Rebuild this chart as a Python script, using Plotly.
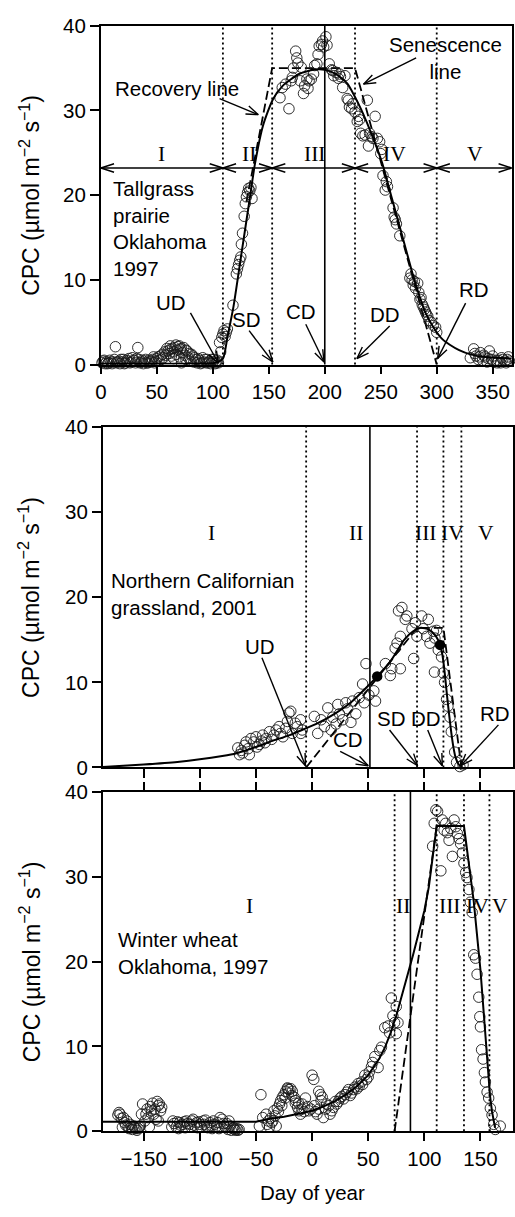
import math
import plotly.graph_objects as go

W, H = 515, 1217
SANS = "Liberation Sans, Arial, sans-serif"
SERIF = "Liberation Serif, Times New Roman, serif"

# ---------------- Panel 1: Tallgrass prairie, Oklahoma 1997 ----------------
p1_points = [
    (1,0.2),(2,0.4),(4,0.1),(5,0.3),(7,0.2),(8,0.5),(10,0.1),(11,0.3),(13,2.1),(14,0.2),
    (16,0.4),(17,0.1),(19,0.3),(20,0.6),(22,0.2),(24,0.4),(25,0.7),(27,0.3),(28,0.8),(30,0.5),
    (31,0.2),(33,2.0),(34,0.6),(36,0.3),(38,0.1),(39,0.4),(41,0.2),(43,0.5),(44,0.3),(46,0.6),
    (47,0.9),(49,0.4),(50,0.7),(52,0.5),(53,1.0),(55,1.2),(56,0.8),(57,1.5),(58,1.1),(60,1.6),
    (61,1.3),(62,1.8),(63,1.0),(64,1.9),(65,1.5),(66,2.0),(67,1.2),(68,1.7),(69,2.1),(70,0.9),
    (71,1.8),(72,0.2),(73,1.4),(74,2.0),(75,1.1),(76,0.6),(77,1.6),(78,0.8),(79,1.3),(80,0.4),
    (82,1.0),(83,0.3),(85,0.6),(86,0.2),(88,0.5),(89,0.1),(91,0.8),(92,0.3),(94,0.2),(95,0.6),
    (97,0.4),(98,0.1),(100,0.3),(101,0.6),(103,0.2),(104,0.5),
    (3,0.5),(6,0.1),(9,0.3),(12,0.6),(15,0.3),(18,0.6),(21,0.1),(23,0.5),(26,0.2),(29,0.5),
    (32,0.7),(35,0.2),(37,0.5),(40,0.6),(42,0.2),(45,0.4),(48,0.2),(51,0.9),(54,0.6),(59,1.9),
    (62,2.2),(65,0.7),(67,2.3),(70,2.2),(72,1.9),(76,1.7),(81,1.2),(84,0.8),(87,0.7),(90,0.2),
    (93,0.6),(96,0.2),(99,0.6),(102,0.1),(105,0.2),
    (106,2.6),(107,1.5),(108,3.2),(109,3.6),(110,4.0),(111,3.3),(112,3.8),(113,4.2),(118,7.0),
    (121,10.7),(122,11.3),(123,11.8),(124,12.3),(125,12.7),(125.5,14.2),(126.5,15.5),(128,17.5),
    (129,19.0),(130,19.8),(131,20.3),(132,20.8),(133,20.5),(134,20.9),(135,19.6),
    (160,31.5),(162,32.7),(165,33.1),(168,30.2),(170,33.5),(171,33.9),(172,35.0),(174,37.0),
    (175,36.2),(176,35.6),(178,33.5),(179,35.1),(181,32.0),(182,32.9),(184,33.7),(185,32.6),
    (186,33.5),(188,33.7),(190,34.3),(191,35.3),(193,35.5),(194,36.6),(195,37.6),(197,37.8),
    (198,38.2),(199,37.5),(201,38.7),(202,37.7),(204,35.5),(206,34.8),(207,34.7),(208,34.1),
    (210,34.5),(212,33.8),(213,34.3),(214,34.0),(216,32.7),(218,34.1),(220,31.4),
    (221,31.2),(222,30.4),(224,30.2),(225,30.8),(227,29.8),(229,28.7),(230,29.3),(231,28.9),
    (232,27.3),(234,27.0),(236,27.1),(238,31.2),(239,25.8),(240,27.3),(242,26.9),(243,26.7),
    (245,29.3),(247,26.7),(249,26.3),(250,24.9),(251,25.4),(252,22.3),(254,20.6),(255,21.6),
    (256,21.0),(261,18.5),(262,17.4),(263,17.1),(264,16.6),(267,15.2),(276,10.2),(277,10.7),
    (278,10.0),(279,9.4),(280,9.8),(281,9.0),(283,9.6),(284,8.5),(285,7.7),(286,7.9),(287,7.1),
    (288,6.8),(289,6.5),(290,6.2),(291,5.9),(292,5.7),(293,5.2),(295,5.0),(297,4.6),(299,4.4),
    (300,3.8),
    (330,0.8),(333,1.85),(335,1.0),(337,0.6),(339,1.4),(341,0.5),(343,0.9),(345,0.3),(347,1.6),
    (349,0.6),(351,0.3),(353,0.5),(355,0.5),(357,0.2),(359,0.6),(361,0.4),(363,0.6),(365,0.4),
    (334,1.3),(338,0.9),(342,1.1),(346,0.7),(350,1.0),(354,0.2),(358,0.8),(362,0.2),(364,0.9),
]
p1_fit = [(0,0.1),(60,0.1),(100,0.15),(105,0.3),(109.4,0.8),(113,3.2),(118.4,6.8),(125.7,13.2),
          (133,19.6),(137.5,23.6),(144.8,28.2),(153.6,31.3),(162.4,32.9),(177,34.3),(190,34.8),
          (200,34.8),(210,34.3),(220,33.2),(230,30.8),(240,27.8),(251,23.9),(260,19.6),(270,14.8),
          (280,10.0),(290,6.1),(298,4.2),(305,3.0),(312,2.3),(320,1.7),(330,1.2),(345,0.85),(367,0.7)]
p1_model = [(130,19.2),(153,35.0),(227,35.0),(300,0.0)]
p1_dotted = [109, 153, 227, 300]
p1_solid = [200]
p1_phase_edges = [0, 109, 153, 227, 300, 367]
p1_phase_level = 23.2
p1_roman = [("I",54),("II",132),("III",191),("IV",262),("V",334)]
p1_roman_y = 24.9
p1_marks = [("UD",(63,7.3),(80,6.1),(105,0.15)),
            ("SD",(130,5.3),(132.4,4.0),(153.6,0.3)),
            ("CD",(178.6,6.3),(183,4.75),(199.3,0.3)),
            ("DD",(253.6,5.9),(258,4.55),(228.7,0.7)),
            ("RD",(333,8.8),(325.8,7.25),(300.8,0.7))]
p1_notes = [("Recovery line", (10.6,32.6), "left", (106,31.4), (140.6,29.5)),
            ("Senescence<br>line", (308,36.2), "center", (281.6,36.2), (234.6,33.1))]

# ---------------- Panel 2: Northern Californian grassland, 2001 ----------------
p2_points = [
    (-66.2,2.3),(-64.7,1.5),(-61.8,1.7),(-55.9,1.5),(-58.8,3.0),(-54.4,3.4),(-50,3.6),(-47,2.7),
    (-44,3.8),(-41,3.4),(-38,4.2),(-34,3.8),(-29.4,4.8),(-28,4.0),(-23.5,4.6),(-22,5.4),(-20.6,6.4),
    (-19,6.6),(-17.6,4.0),(-13.2,4.8),(-10.3,5.6),(-10,4.0),(-8.8,4.4),
    (-63,2.0),(-60,2.6),(-57,2.2),(-52,3.0),(-49,2.4),(-45,3.1),(-42,2.9),(-36,3.3),(-32,4.4),
    (-26,3.6),(-15,5.2),
    (2,6.0),(5,4.0),(8,5.6),(11,4.8),(14,7.0),(17,4.4),(18.4,5.9),(21.4,5.1),(22.9,7.4),(24.4,6.3),
    (27.3,5.6),(30,7.6),(31.7,6.9),(34.6,5.3),(36,7.8),(39,6.3),(42,8.2),(45,9.8),(46.5,7.6),
    (48,12.2),(50.6,8.5),(55,9.0),(56.5,7.8),
    (65.3,12.2),(69.7,10.8),(71,11.6),(74,14.0),(75.7,14.6),(78.6,15.4),(78.6,11.6),(77,18.4),
    (80,18.8),(83,17.4),(84.4,17.8),(89,16.3),(90.5,12.8),(92,17.0),(93.4,15.4),
    (97.6,17.8),(99,16.3),(102,15.4),(103.5,17.4),(105,14.6),(108,16.0),(109.4,15.2),(110.9,16.1),
    (109,11.2),(112.4,13.8),
    (115.3,13.0),(116.8,11.1),(118,10.0),(119.8,8.0),(121,7.2),(122.8,5.9),(124,4.2),(127,1.8),
    (128.7,0.6),(131.6,0.1),(134.5,0.3),
]
p2_filled = [(58,10.7),(114,14.4)]
p2_fit = [(-186.4,0.05),(-150,0.35),(-120,0.65),(-100,0.95),(-80,1.35),(-68,1.65),(-50,2.4),
          (-38,3.0),(-20,3.8),(-9,4.4),(5,5.2),(20,6.3),(35,7.7),(50,9.6),(58,10.7),(70,12.5),
          (82,15.0),(90,16.0),(97,16.4),(104,16.2),(110,15.5),(114,14.4),(116,13.3),(118,11.3),
          (120,8.7),(122,6.3),(124,4.1),(126,2.3),(128,1.1),(131,0.3),(134,0.1)]
p2_model = [(-5.3,0.0),(93.5,16.4),(117,16.4),(133,0.0)]
p2_dotted = [-5.3, 93.5, 117, 133]
p2_solid = [51.5]
p2_roman = [("I",-89.7),("II",38.8),("III",100.6),("IV",125),("V",155)]
p2_roman_y = 27.5
p2_marks = [("UD",(-46,14.2),(-44.7,12.9),(-5.9,0.2)),
            ("CD",(32.4,3.3),(25,1.9),(50,0.2)),
            ("SD",(70.6,5.8),(69,4.4),(94,0.2)),
            ("DD",(101.5,5.8),(103,4.4),(116,0.2)),
            ("RD",(163,6.3),(166,5.0),(132.4,0.2))]

# ---------------- Panel 3: Winter wheat, Oklahoma 1997 ----------------
p3_points = [
    (-172,2.2),(-171,2.0),(-169,0.46),(-168,1.6),(-165,1.2),(-162,0.8),(-161,0.5),(-157,0.3),
    (-156,0.1),(-154,0.5),(-151,3.2),(-152,2.0),(-149,1.2),(-146,1.6),(-145,0.5),(-143,2.4),
    (-140,2.6),(-139,1.4),(-137,3.0),(-136,3.2),(-135,2.4),(-137,1.2),
    (-173,1.9),(-170,1.5),(-167,1.0),(-166,0.7),(-164,0.5),(-163,0.3),(-160,0.2),(-159,0.6),
    (-158,0.4),(-155,0.3),(-153,0.6),(-148,2.0),(-147,2.6),(-144,2.9),(-142,3.3),(-141,2.0),
    (-138,3.5),(-134,2.8),
    (-124,1.2),(-121,0.5),(-118,1.0),(-115,0.8),(-112,1.2),(-109,0.8),(-106,1.4),(-103,1.0),
    (-100,0.8),(-97,1.2),(-94,0.6),(-91,1.0),(-88,1.2),(-85,0.6),(-82,1.6),(-79,0.9),(-77,0.4),
    (-74,1.2),(-71,0.3),(-68,0.1),(-65,0.2),
    (-125,0.5),(-123,0.9),(-120,1.1),(-119,0.3),(-117,0.7),(-114,1.1),(-113,0.4),(-111,0.9),
    (-108,0.5),(-107,1.2),(-105,0.7),(-102,0.4),(-101,1.1),(-99,0.5),(-96,0.8),(-95,1.3),
    (-93,0.4),(-90,0.7),(-89,0.3),(-87,0.8),(-84,1.0),(-83,0.3),(-80,1.4),(-78,0.6),(-76,0.9),
    (-75,0.2),(-73,0.6),(-72,0.1),(-70,0.4),(-69,0.2),(-67,0.3),(-66,0.1),
    (-47,0.6),(-45.6,4.3),(-44,1.6),(-41,2.0),(-38,0.5),(-35,1.2),(-34,2.4),(-32,0.6),(-29,3.2),
    (-26.5,4.0),(-23.5,4.7),(-22,5.1),(-20.6,4.9),(-17.6,4.7),(-16,4.0),(-14.7,3.6),(-11.7,2.4),
    (-10.3,2.0),(-8.8,3.2),(-5.9,3.9),(-2.9,2.4),(0,6.6),(1.5,6.1),(4.4,2.0),(5.9,4.7),(7.4,4.3),
    (-40,0.8),(-39,1.2),(-37,1.5),(-36,1.0),(-33,1.8),(-31,2.7),(-30,2.3),(-28,3.6),(-27,3.0),
    (-25,4.3),(-24,3.9),(-21.7,5.0),(-21,4.5),(-19,5.0),(-18,4.2),(-15,3.3),(-13,2.8),(-12,3.3),
    (-9,2.6),(-7,2.3),(-4,2.9),(-1,2.6),(2,3.0),(3,2.3),(6,2.6),(8,3.6),(9,4.0),(12,2.6),
    (15,3.0),(16,2.0),(19,2.8),(22,3.2),(25,3.9),(28,3.8),(31,4.6),(34,4.2),(37,4.9),(40,5.0),
    (42,5.3),(45,5.5),(50,6.4),(51,7.0),(54,8.1),
    (10,1.6),(13,3.2),(17.6,2.4),(20.6,3.5),(23.5,3.5),(26.5,4.1),(29.4,4.3),(32.4,4.9),(35.3,4.5),
    (38.2,5.2),(41,5.6),(44,5.8),(47,6.6),(48.5,6.1),(52.9,7.6),(55.9,8.8),(58.8,7.5),(60.3,9.5),
    (61.8,9.9),(64.7,12.2),(67.6,12.4),(69,11.6),(70.6,15.7),(72,13.6),(73.5,12.8),(75,14.7),
    (75,11.5),(76.5,12.8),
    (107.4,33.6),(108.8,36.3),(110.3,37.9),(111.8,37.7),(114.7,30.7),(116,36.7),(117.6,35.5),
    (119,36.3),(120.5,35.2),(122,34.3),(123.5,35.7),(125,32.4),(126.5,36.7),(128,35.9),
    (129.4,35.1),(131,34.5),(132.3,33.9),(133.8,32.8),(135.3,31.6),
    (136.8,30.5),(138,29.9),(139.7,28.5),(141,27.0),(142.6,25.8),(144,20.8),(145.6,20.4),
    (147,18.5),(148.5,15.8),(149.4,13.5),(150,12.3),(151,9.6),(152.3,8.5),(153.5,6.9),
    (154.4,5.8),(155.9,4.6),(157.3,3.9),(158.8,2.7),(160.3,1.9),(161.8,0.8),(163.2,0.2),
    (167.6,0.6),
]
p3_fit = [(-186.4,1.1),(-50,1.1),(-40,1.4),(-25,1.7),(-10,2.1),(0,2.4),(10,2.9),(20,3.5),(30,4.3),
          (40,5.3),(50,6.6),(60,8.6),(65,9.9),(70,11.6),(75,13.6),(80,15.9),(85,18.3),(90,20.8),
          (95,23.4),(100,26.0),(104,28.8),(108,32.6),(111,36.0),(135.3,36.0),(138.2,32.9),
          (144,27.1),(150,19.0),(156,7.8),(158.5,4.2),(160.3,2.3),(163,0.4)]
p3_model = [(73.5,0.0),(111,36.0),(135.3,36.0)]
p3_dotted = [73.5, 111, 135.3, 158]
p3_solid = [87.6]
p3_roman = [("I",-56),("II",81),("III",122),("IV",147),("V",167.6)]
p3_roman_y = 26.5

# ---------------- axes / ticks ----------------
p1_xrange = [0, 367]
p23_xrange = [-186.4, 179]
y_range = [0, 40]
p1_xticks = [0, 50, 100, 150, 200, 250, 300, 350]
p23_xticks = [-150, -100, -50, 0, 50, 100, 150]
y_ticks = [0, 10, 20, 30, 40]

site_labels = [("Tallgrass<br>prairie<br>Oklahoma<br>1997", 9.4, 16.1),
               ("Northern Californian<br>grassland, 2001", -180.9, 20.4),
               ("Winter wheat<br>Oklahoma, 1997", -175, 21.0)]

# pixel layout of the three frames (left, right, top, bottom)
frames = [(96, 511.7, 14, 359.3), (98, 513, 423, 770), (98, 513, 795, 1140.7)]
xranges = [p1_xrange, p23_xrange, p23_xrange]

fig = go.Figure()

def xy(pairs):
    return [p[0] for p in pairs], [p[1] for p in pairs]

def axnames(i):
    return ("x", "y") if i == 0 else (f"x{i+1}", f"y{i+1}")

panels = [
    dict(pts=p1_points, fit=p1_fit, model=p1_model, spline=True),
    dict(pts=p2_points, fit=p2_fit, model=p2_model, spline=True),
    dict(pts=p3_points, fit=p3_fit, model=p3_model, spline=False),
]
for i, pnl in enumerate(panels):
    xa, ya = axnames(i)
    mx, my = xy(pnl["model"])
    fig.add_trace(go.Scatter(x=mx, y=my, xaxis=xa, yaxis=ya, mode="lines",
                             line=dict(color="black", width=1.8, dash="9px,4px"),
                             showlegend=False, hoverinfo="skip"))
    px_, py_ = xy(pnl["pts"])
    fig.add_trace(go.Scatter(x=px_, y=py_, xaxis=xa, yaxis=ya, mode="markers",
                             marker=dict(symbol="circle-open", size=10.5, color="#1a1a1a",
                                         line=dict(width=0.9, color="#1a1a1a")),
                             cliponaxis=False, showlegend=False))
    fx, fy = xy(pnl["fit"])
    fig.add_trace(go.Scatter(x=fx, y=fy, xaxis=xa, yaxis=ya, mode="lines",
                             line=dict(color="black", width=2.0,
                                       shape="spline" if pnl["spline"] else "linear",
                                       smoothing=0.6),
                             showlegend=False))

fx, fy = xy(p2_filled)
fig.add_trace(go.Scatter(x=fx, y=fy, xaxis="x2", yaxis="y2", mode="markers",
                         marker=dict(symbol="circle", size=10.5, color="black"),
                         showlegend=False))

shapes = []
annotations = []

def vlines(xref, yref, xs, dotted):
    for v in xs:
        shapes.append(dict(type="line", xref=xref, yref=f"{yref} domain", x0=v, x1=v, y0=0, y1=1,
                           line=dict(color="black", width=1.8 if dotted else 1.6,
                                     dash="2px,3px" if dotted else "solid")))

for i, (dots, sol) in enumerate([(p1_dotted, p1_solid), (p2_dotted, p2_solid), (p3_dotted, p3_solid)]):
    xa, ya = axnames(i)
    vlines(xa, ya, dots, True)
    vlines(xa, ya, sol, False)

# arrows drawn as line traces with open V heads (head geometry computed in pixel space)
def arrow_trace(i, tail, tip, both=False, head=13, half_angle=20):
    l, r, t, b = frames[i]
    xr = xranges[i]
    sx = (r - l) / (xr[1] - xr[0])
    sy = (b - t) / (y_range[1] - y_range[0])
    xa, ya = axnames(i)
    xs, ys = [tail[0], tip[0], None], [tail[1], tip[1], None]

    def head_at(p_from, p_to):
        dx = (p_to[0] - p_from[0]) * sx
        dy = (p_to[1] - p_from[1]) * sy
        n = math.hypot(dx, dy)
        ux, uy = dx / n, dy / n
        out_x, out_y = [], []
        for sgn in (1, -1):
            a = math.radians(half_angle) * sgn
            rx = -(ux * math.cos(a) - uy * math.sin(a)) * head
            ry = -(ux * math.sin(a) + uy * math.cos(a)) * head
            out_x.append(p_to[0] + rx / sx)
            out_y.append(p_to[1] + ry / sy)
        return [out_x[0], p_to[0], out_x[1], None], [out_y[0], p_to[1], out_y[1], None]

    hx, hy = head_at(tail, tip)
    xs += hx; ys += hy
    if both:
        hx, hy = head_at(tip, tail)
        xs += hx; ys += hy
    fig.add_trace(go.Scatter(x=xs, y=ys, xaxis=xa, yaxis=ya, mode="lines",
                             line=dict(color="black", width=1.4), cliponaxis=False,
                             showlegend=False, hoverinfo="skip"))

def text(xref, yref, x, y, s, size=20.5, family=SANS, xanchor="center", align="center"):
    annotations.append(dict(x=x, y=y, xref=xref, yref=yref, text=s, showarrow=False,
                            xanchor=xanchor, yanchor="middle", align=align,
                            font=dict(family=family, size=size, color="black")))

for a, b in zip(p1_phase_edges[:-1], p1_phase_edges[1:]):
    arrow_trace(0, (a, p1_phase_level), (b, p1_phase_level), both=True, head=14, half_angle=18)

for i, marks in [(0, p1_marks), (1, p2_marks)]:
    xa, ya = axnames(i)
    for (lab, tpos, tail, tip) in marks:
        text(xa, ya, tpos[0], tpos[1], lab)
        arrow_trace(i, tail, tip)

for (lab, tpos, anchor, tail, tip) in p1_notes:
    text("x", "y", tpos[0], tpos[1], lab, xanchor=anchor)
    arrow_trace(0, tail, tip)

for i, (romans, ry) in enumerate([(p1_roman, p1_roman_y), (p2_roman, p2_roman_y), (p3_roman, p3_roman_y)]):
    xa, ya = axnames(i)
    for s, xv in romans:
        text(xa, ya, xv, ry, s, size=21.5, family=SERIF)

for i, (s, xv, yv) in enumerate(site_labels):
    xa, ya = axnames(i)
    text(xa, ya, xv, yv, s, xanchor="left", align="left")

ytitle = "CPC (\u00b5mol m<sup>\u22122</sup> s<sup>\u22121</sup>)"
for (l, r, t, b) in frames:
    annotations.append(dict(x=24 / W, y=1 - (t + b) / 2 / H, xref="paper", yref="paper",
                            text=ytitle, textangle=-90, showarrow=False,
                            xanchor="center", yanchor="middle",
                            font=dict(family=SANS, size=23, color="black")))
annotations.append(dict(x=310 / W, y=1 - 1203 / H, xref="paper", yref="paper",
                        text="Day of year", showarrow=False, xanchor="center", yanchor="middle",
                        font=dict(family=SANS, size=20.5, color="black")))

axcommon = dict(showgrid=False, zeroline=False, showline=True, linecolor="black", linewidth=1.8,
                ticks="outside", tickwidth=1.6, tickcolor="black",
                tickfont=dict(family=SANS, size=20.5, color="black"))

layout = dict(width=W, height=H, margin=dict(l=0, r=0, t=0, b=0),
              paper_bgcolor="white", plot_bgcolor="white", showlegend=False,
              shapes=shapes, annotations=annotations)
for i, (l, r, t, b) in enumerate(frames):
    n = "" if i == 0 else str(i + 1)
    xd = [l / W, r / W]
    yd = [1 - b / H, 1 - t / H]
    if i == 0:
        xax = dict(range=p1_xrange, tickvals=p1_xticks, ticklen=8, mirror=True)
    elif i == 1:
        xax = dict(range=p23_xrange, tickvals=p23_xticks, ticklen=9, mirror=True,
                   showticklabels=False)
    else:
        xax = dict(range=p23_xrange, tickvals=p23_xticks, ticklen=8, mirror="ticks")
    xax.update(axcommon)
    xax.update(domain=xd, anchor=f"y{n}")
    yax = dict(range=y_range, tickvals=y_ticks, ticklen=9, mirror=True, domain=yd,
               anchor=f"x{n}")
    yax.update(axcommon)
    layout[f"xaxis{n}"] = xax
    layout[f"yaxis{n}"] = yax

fig.update_layout(**layout)
fig.write_html("out.html",
               post_script="document.body.style.margin='0px';document.body.style.overflow='hidden';")
